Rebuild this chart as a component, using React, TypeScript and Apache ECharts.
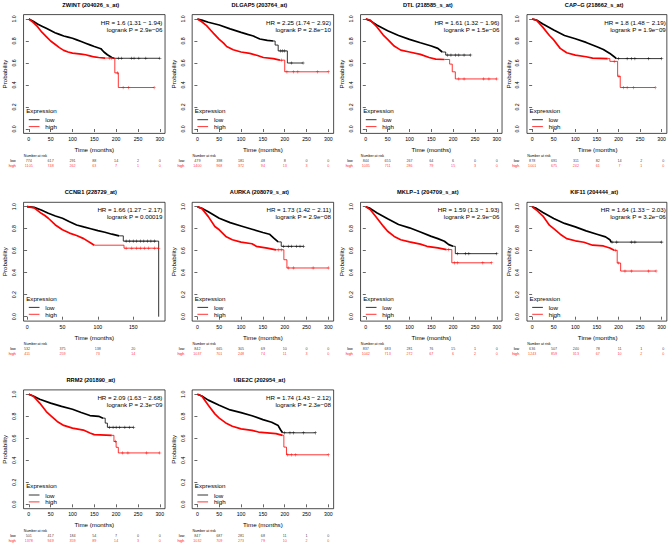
import React, { useEffect, useRef } from "react";
import * as echarts from "echarts";

const FONT = "'Liberation Sans', Arial, Helvetica, sans-serif";

const TITLES = [
  "ZWINT (204026_s_at)", "DLGAP5 (203764_at)", "DTL (218585_s_at)", "CAP\u2212G (218662_s_at)",
  "CCNB1 (228729_at)", "AURKA (208079_s_at)", "MKLP\u22121 (204709_s_at)", "KIF11 (204444_at)",
  "RRM2 (201890_at)", "UBE2C (202954_at)",
];
const HR_TEXT = [
  "HR = 1.6 (1.31 \u2212 1.94)", "HR = 2.25 (1.74 \u2212 2.92)", "HR = 1.61 (1.32 \u2212 1.96)", "HR = 1.8 (1.48 \u2212 2.19)",
  "HR = 1.66 (1.27 \u2212 2.17)", "HR = 1.73 (1.42 \u2212 2.11)", "HR = 1.59 (1.3 \u2212 1.93)", "HR = 1.64 (1.33 \u2212 2.03)",
  "HR = 2.09 (1.63 \u2212 2.68)", "HR = 1.74 (1.43 \u2212 2.12)",
];
const P_TEXT = [
  "logrank P = 2.9e\u221206", "logrank P = 2.8e\u221210", "logrank P = 1.5e\u221206", "logrank P = 1.9e\u221209",
  "logrank P = 0.00019", "logrank P = 2.9e\u221208", "logrank P = 2.9e\u221206", "logrank P = 3.2e\u221206",
  "logrank P = 2.3e\u221209", "logrank P = 2.3e\u221208",
];

const X_TICKS_300 = [0, 50, 100, 150, 200, 250, 300];
const X_TICKS_CCNB1 = [0, 50, 100, 150];
const Y_TICKS = [0, 0.2, 0.4, 0.6, 0.8, 1];

// Number at risk
const NAR_LOW = [
  [774, 617, 291, 88, 14, 2, 0],
  [479, 398, 181, 48, 8, 0, 0],
  [844, 655, 267, 64, 6, 0, 0],
  [878, 691, 311, 82, 14, 2, 0],
  [532, 375, 138, 20],
  [842, 665, 305, 69, 10, 0, 0],
  [837, 683, 281, 76, 15, 1, 0],
  [636, 507, 240, 78, 11, 1, 0],
  [501, 417, 184, 54, 7, 0, 0],
  [847, 687, 281, 68, 11, 1, 0],
];
const NAR_HIGH = [
  [1105, 748, 262, 63, 7, 1, 0],
  [1400, 968, 372, 94, 13, 3, 0],
  [1035, 711, 286, 79, 15, 3, 0],
  [1001, 675, 242, 61, 7, 1, 0],
  [411, 259, 73, 14],
  [1037, 701, 248, 74, 11, 3, 0],
  [1042, 713, 272, 67, 6, 2, 0],
  [1243, 859, 313, 67, 10, 2, 0],
  [1378, 949, 359, 89, 14, 3, 0],
  [1032, 709, 273, 79, 10, 2, 0],
];

// Survival curves [months, probability]
const ZWINT_LOW = [[0,1],[10,0.98],[20,0.955],[30,0.935],[40,0.915],[50,0.895],[60,0.875],[70,0.86],[80,0.845],[90,0.835],[100,0.825],[110,0.81],[120,0.795],[130,0.78],[140,0.765],[150,0.75],[165,0.73],[172,0.70],[180,0.675],[190,0.65],[195,0.643],[300,0.643]];
const ZWINT_HIGH = [[0,1],[10,0.97],[20,0.93],[30,0.88],[40,0.84],[50,0.80],[60,0.77],[70,0.74],[80,0.715],[90,0.70],[100,0.69],[110,0.685],[120,0.68],[130,0.675],[140,0.665],[150,0.655],[160,0.65],[175,0.645],[197,0.51],[205,0.377],[287,0.377]];
const DLGAP5_LOW = [[0,1],[10,0.99],[25,0.97],[50,0.945],[75,0.91],[100,0.878],[115,0.86],[128,0.845],[143,0.818],[160,0.805],[174,0.80],[178,0.763],[185,0.71],[206,0.60],[242,0.60]];
const DLGAP5_HIGH = [[0,1],[10,0.975],[21,0.94],[30,0.90],[37,0.87],[50,0.815],[60,0.78],[67,0.75],[82,0.72],[100,0.70],[120,0.687],[136,0.67],[151,0.65],[174,0.64],[189,0.626],[200,0.52],[300,0.52]];
const DTL_LOW = [[0,1],[10,0.985],[25,0.945],[50,0.894],[75,0.85],[100,0.815],[125,0.784],[150,0.754],[165,0.733],[175,0.70],[183,0.672],[240,0.672]];
const DTL_HIGH = [[0,1],[10,0.99],[25,0.93],[40,0.854],[50,0.815],[65,0.754],[80,0.717],[100,0.70],[125,0.678],[145,0.65],[160,0.635],[180,0.632],[192,0.59],[198,0.52],[205,0.455],[300,0.455]];
const CAPG_LOW = [[0,1],[10,0.99],[25,0.955],[50,0.90],[75,0.85],[100,0.82],[125,0.787],[150,0.748],[165,0.723],[180,0.687],[190,0.657],[195,0.64],[300,0.64]];
const CAPG_HIGH = [[0,1],[10,0.99],[25,0.924],[40,0.85],[50,0.81],[65,0.733],[80,0.693],[100,0.672],[125,0.657],[140,0.645],[175,0.64],[180,0.615],[198,0.48],[204,0.377],[285,0.377]];
const CCNB1_LOW = [[0,1],[10,0.994],[20,0.97],[30,0.94],[40,0.916],[50,0.895],[60,0.864],[70,0.834],[80,0.816],[90,0.80],[100,0.783],[110,0.768],[120,0.75],[130,0.735],[136,0.687],[186,0.687],[186,0]];
const CCNB1_HIGH = [[0,1],[10,0.99],[20,0.94],[25,0.92],[30,0.895],[40,0.834],[50,0.79],[60,0.76],[70,0.738],[80,0.71],[90,0.67],[95,0.65],[137,0.623],[186,0.623]];
const AURKA_LOW = [[0,1],[10,0.985],[25,0.955],[50,0.895],[75,0.855],[100,0.825],[125,0.795],[150,0.765],[165,0.75],[175,0.714],[185,0.68],[192,0.64],[243,0.64]];
const AURKA_HIGH = [[0,1],[10,0.985],[25,0.91],[40,0.82],[50,0.79],[65,0.73],[80,0.70],[100,0.678],[125,0.663],[135,0.64],[160,0.623],[180,0.608],[198,0.518],[205,0.443],[300,0.443]];
const MKLP1_LOW = [[0,1],[10,0.985],[25,0.945],[50,0.89],[75,0.838],[100,0.808],[125,0.77],[150,0.73],[165,0.71],[180,0.686],[190,0.655],[200,0.64],[205,0.573],[300,0.573]];
const MKLP1_HIGH = [[0,1],[10,0.975],[25,0.90],[40,0.823],[50,0.777],[65,0.73],[80,0.70],[100,0.68],[125,0.66],[140,0.64],[165,0.625],[185,0.61],[197,0.49],[288,0.49]];
const KIF11_LOW = [[0,1],[10,0.985],[25,0.948],[50,0.893],[75,0.848],[100,0.817],[125,0.78],[150,0.75],[170,0.726],[180,0.70],[183,0.678],[300,0.678]];
const KIF11_HIGH = [[0,1],[10,0.97],[25,0.915],[40,0.832],[50,0.80],[65,0.75],[80,0.71],[100,0.69],[120,0.677],[140,0.65],[165,0.643],[180,0.625],[190,0.604],[197,0.488],[205,0.415],[287,0.415]];
const RRM2_LOW = [[0,1],[10,0.985],[25,0.955],[50,0.92],[75,0.89],[100,0.864],[120,0.834],[140,0.807],[160,0.80],[170,0.783],[175,0.738],[180,0.70],[240,0.70]];
const RRM2_HIGH = [[0,1],[10,0.985],[25,0.92],[40,0.843],[50,0.807],[65,0.753],[80,0.717],[100,0.693],[125,0.675],[140,0.648],[150,0.633],[190,0.627],[195,0.572],[200,0.518],[205,0.467],[300,0.467]];
const UBE2C_LOW = [[0,1],[10,0.985],[25,0.947],[50,0.90],[75,0.858],[100,0.834],[125,0.805],[150,0.77],[170,0.746],[185,0.716],[190,0.68],[195,0.65],[270,0.65]];
const UBE2C_HIGH = [[0,1],[10,0.985],[25,0.90],[40,0.822],[50,0.784],[65,0.74],[80,0.71],[100,0.686],[125,0.672],[140,0.657],[180,0.642],[195,0.627],[198,0.52],[204,0.45],[300,0.45]];

const LOW_CURVES = [ZWINT_LOW, DLGAP5_LOW, DTL_LOW, CAPG_LOW, CCNB1_LOW, AURKA_LOW, MKLP1_LOW, KIF11_LOW, RRM2_LOW, UBE2C_LOW];
const HIGH_CURVES = [ZWINT_HIGH, DLGAP5_HIGH, DTL_HIGH, CAPG_HIGH, CCNB1_HIGH, AURKA_HIGH, MKLP1_HIGH, KIF11_HIGH, RRM2_HIGH, UBE2C_HIGH];
// time after which censoring is sparse (curve drawn as thin steps)
const LOW_SPLIT = [195, 174, 175, 195, 130, 185, 200, 183, 170, 195];
const HIGH_SPLIT = [175, 189, 180, 175, 95, 180, 185, 190, 190, 195];
// censor marks in the sparse tails
const LOW_CENSOR = [
  [205, 212, 235, 241, 252, 268, 300],
  [190, 195, 200, 215, 242],
  [187, 195, 205, 213, 225, 240],
  [200, 220, 230, 238, 270, 300],
  [140, 145, 150, 155, 160, 165, 170, 175, 180],
  [197, 208, 215, 227, 235, 243],
  [210, 228, 236, 300],
  [185, 196, 230, 238, 300],
  [185, 193, 200, 208, 220, 230, 240],
  [200, 212, 220, 243, 270],
];
const HIGH_CENSOR = [
  [185, 190, 203, 216, 228, 287],
  [192, 205, 220, 230, 275, 300],
  [213, 225, 270, 282, 300],
  [190, 201, 212, 220, 235, 285],
  [140, 148, 155, 160, 166, 172, 180, 186],
  [185, 192, 208, 220, 265, 300],
  [190, 203, 210, 268, 288],
  [193, 200, 215, 230, 270, 287],
  [198, 215, 227, 270, 300],
  [207, 215, 225, 300],
];

const COL_X0 = [28.8, 197.4, 365.8, 532.2];
const ROW_Y1 = [19, 206.7, 394.3];
const PX_MO = 131 / 300;
const Y_PX = 110;
const PLUS = "path://M4.2,0H5.8V4.2H10V5.8H5.8V10H4.2V5.8H0V4.2H4.2Z";

function sAt(curve: number[][], t: number) {
  let s = curve[0][1];
  for (const p of curve) {
    if (p[0] <= t) s = p[1];
    else break;
  }
  return s;
}

function txt(x: number, y: number, text: string, size: number, opts: any = {}) {
  const align = opts.align || "left";
  const va = opts.va || "middle";
  return {
    type: "text",
    x,
    y,
    rotation: opts.rotation || 0,
    silent: true,
    style: {
      text,
      fontSize: size,
      fontFamily: FONT,
      fontWeight: opts.bold ? "bold" : "normal",
      fill: opts.color || "#000",
      align,
      verticalAlign: va,
      textAlign: align,
      textVerticalAlign: va,
    },
  };
}

function buildOption() {
  const grid: any[] = [];
  const xAxis: any[] = [];
  const yAxis: any[] = [];
  const series: any[] = [];
  const graphic: any[] = [];

  for (let i = 0; i < 10; i++) {
    const row = Math.floor(i / 4);
    const col = i % 4;
    const x0 = COL_X0[col];
    const y1 = ROW_Y1[row];
    const y0 = y1 + Y_PX;
    const gLeft = x0 - 12 * PX_MO;
    const gWidth = 324 * PX_MO;
    const isC = i === 4;
    const ticks = isC ? X_TICKS_CCNB1 : X_TICKS_300;
    const xmin = isC ? -5 : -12;
    const xmax = isC ? 195 : 312;
    const g = 2 * i;
    const gn = 2 * i + 1;

    grid.push({
      left: gLeft, top: y1 - 0.04 * Y_PX, width: gWidth, height: 1.08 * Y_PX,
      show: true, borderColor: "#000", borderWidth: 0.7, backgroundColor: "transparent",
    });
    grid.push({ left: gLeft, top: y0 + 32, width: gWidth, height: 5, show: false });

    xAxis.push({
      gridIndex: g, type: "value", min: xmin, max: xmax,
      axisLine: { show: false }, splitLine: { show: false },
      axisTick: { show: true, customValues: ticks, length: 3, lineStyle: { color: "#000", width: 0.6 } },
      axisLabel: { show: true, customValues: ticks, fontSize: 5.2, color: "#000", margin: 3, fontFamily: FONT },
    });
    xAxis.push({ gridIndex: gn, type: "value", min: xmin, max: xmax, show: false });
    yAxis.push({
      gridIndex: g, type: "value", min: -0.04, max: 1.04,
      axisLine: { show: false }, splitLine: { show: false },
      axisTick: { show: true, customValues: Y_TICKS, length: 3, lineStyle: { color: "#000", width: 0.6 } },
      axisLabel: {
        show: true, customValues: Y_TICKS, fontSize: 5.2, color: "#000", margin: 7, rotate: 90,
        fontFamily: FONT, formatter: (v: number) => v.toFixed(1),
      },
    });
    yAxis.push({ gridIndex: gn, type: "value", min: 0, max: 1, show: false });

    const curves: [number[][], number, string, number[]][] = [
      [LOW_CURVES[i], LOW_SPLIT[i], "#000000", LOW_CENSOR[i]],
      [HIGH_CURVES[i], HIGH_SPLIT[i], "#ff0000", HIGH_CENSOR[i]],
    ];
    curves.forEach(([curve, split, color, cens], k) => {
      const dense = curve.filter((p) => p[0] <= split);
      const tail = [[split, sAt(curve, split)], ...curve.filter((p) => p[0] > split)];
      series.push({
        type: "line", xAxisIndex: g, yAxisIndex: g, data: dense, symbol: "none", silent: true,
        lineStyle: { color, width: 1.7 }, z: 3 + k,
      });
      series.push({
        type: "line", xAxisIndex: g, yAxisIndex: g, data: tail, step: "end", symbol: "none", silent: true,
        lineStyle: { color, width: 0.8 }, z: 3 + k,
      });
      series.push({
        type: "scatter", xAxisIndex: g, yAxisIndex: g, silent: true, symbol: PLUS, symbolSize: 3.2,
        itemStyle: { color }, z: 5 + k,
        data: cens.map((t) => [t, sAt(curve, t)]),
      });
    });

    [[NAR_LOW[i], 1, "#000"], [NAR_HIGH[i], 0, "#ff0000"]].forEach(([vals, yv, color]: any) => {
      series.push({
        type: "scatter", xAxisIndex: gn, yAxisIndex: gn, silent: true, symbolSize: 1,
        itemStyle: { color: "rgba(0,0,0,0)" },
        label: {
          show: true, position: "inside", fontSize: 3.7, color, fontFamily: FONT,
          formatter: (p: any) => String(p.value[2]),
        },
        data: vals.map((v: number, k: number) => [ticks[k], yv, v]),
      });
    });

    // texts
    graphic.push(txt(x0 + 62, y1 - 14.5, TITLES[i], 5.7, { align: "center", bold: true }));
    graphic.push(txt(x0 + 133.6, y1 + 3, HR_TEXT[i], 6.2, { align: "right" }));
    graphic.push(txt(x0 + 133.6, y1 + 10, P_TEXT[i], 6.2, { align: "right" }));
    graphic.push(txt(x0 + 65.5, y0 + 20.5, "Time (months)", 6.2, { align: "center" }));
    graphic.push(txt(x0 - 24, (y0 + y1) / 2, "Probability", 6.2, { align: "center", rotation: Math.PI / 2 }));
    // legend
    graphic.push(txt(x0 - 2.6, y0 - 18.7, "Expression", 6.2));
    graphic.push({ type: "line", silent: true, shape: { x1: x0, y1: y0 - 9.3, x2: x0 + 10.7, y2: y0 - 9.3 }, style: { stroke: "#000", lineWidth: 0.8 } });
    graphic.push({ type: "line", silent: true, shape: { x1: x0, y1: y0 - 2.4, x2: x0 + 10.7, y2: y0 - 2.4 }, style: { stroke: "#ff0000", lineWidth: 0.8 } });
    graphic.push(txt(x0 + 16.5, y0 - 9.3, "low", 6.2));
    graphic.push(txt(x0 + 16.5, y0 - 2.4, "high", 6.2));
    // number at risk
    graphic.push(txt(x0 - 5, y0 + 27, "Number at risk", 3.6));
    graphic.push(txt(x0 - 13, y0 + 32, "low", 3.7, { align: "right" }));
    graphic.push(txt(x0 - 13, y0 + 37, "high", 3.7, { align: "right", color: "#ff0000" }));
  }

  return {
    animation: false,
    backgroundColor: "#ffffff",
    textStyle: { fontFamily: FONT },
    grid, xAxis, yAxis, series, graphic,
  };
}

export default function App() {
  const ref = useRef<HTMLDivElement>(null);
  useEffect(() => {
    if (!ref.current) return;
    const chart = echarts.init(ref.current, null, { renderer: "svg" });
    chart.setOption(buildOption() as any);
    return () => chart.dispose();
  }, []);
  return (
    <div
      ref={ref}
      style={{ position: "fixed", left: 0, top: 0, width: 669, height: 548, background: "#fff" }}
    />
  );
}
